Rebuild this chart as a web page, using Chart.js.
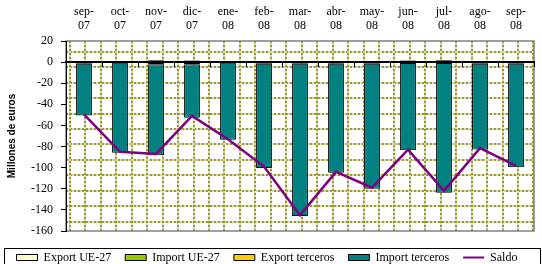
<!DOCTYPE html>
<html><head><meta charset="utf-8">
<script src="https://cdn.jsdelivr.net/npm/chart.js@4"></script>
<style>html,body{margin:0;padding:0;background:#fff;overflow:hidden}</style>
</head><body>
<canvas id="c" width="542" height="264"></canvas>
<script>
const categories = [['sep-','07'],['oct-','07'],['nov-','07'],['dic-','07'],['ene-','08'],['feb-','08'],['mar-','08'],['abr-','08'],['may-','08'],['jun-','08'],['jul-','08'],['ago-','08'],['sep-','08']];
const exportUE       = [0.5, 0.4, 1.0, 1.2, 0.4, 0.5, 0.5, 0.5, 0.6, 1.2, 1.3, 0.5, 0.5];
const importUE       = [-1.5, -0.5, -2.0, -2.0, -0.6, -1.5, -1.5, -1.5, -1.5, -0.8, -0.8, -1.5, -1.5];
const exportTerceros = [0.5, 0.4, 0.8, 0.6, 0.4, 0.5, 0.5, 0.4, 0.5, 0.6, 0.6, 0.5, 0.5];
const importTerceros = [-49, -85.3, -86.3, -50.7, -72.9, -98.9, -144.3, -103.3, -118.5, -82.8, -122.9, -81.2, -98];
const saldo          = [-49.5, -85, -87, -51, -73, -99, -145, -104, -119, -83, -122, -81.5, -98.2];
const yMin = -160, yMax = 20, yStep = 20;
const seriesNames = ['Export UE-27', 'Import UE-27', 'Export terceros', 'Import terceros', 'Saldo'];

const serif = "'Liberation Serif', 'Times New Roman', serif";

const bgPlugin = {
  id: 'bg',
  beforeUpdate(chart) {
    const lg = chart.legend;
    if (lg && !lg._fixedHeight) {
      const orig = lg.fit.bind(lg);
      lg.fit = function () { orig(); this.height = 33; };
      lg._fixedHeight = true;
    }
  },
  beforeDraw(chart) {
    const {ctx, chartArea: a} = chart;
    ctx.save();
    ctx.fillStyle = '#fff';
    ctx.fillRect(0, 0, chart.width, chart.height);
    ctx.beginPath();
    ctx.rect(a.left, a.top, a.right - a.left, a.bottom - a.top);
    ctx.clip();
    const step = 15.45;
    const line = (x1, y1, x2, y2) => {
      ctx.lineWidth = 2;
      ctx.setLineDash([]);
      ctx.strokeStyle = '#dcdcb0';
      ctx.beginPath(); ctx.moveTo(x1, y1); ctx.lineTo(x2, y2); ctx.stroke();
      ctx.setLineDash([2, 2]);
      ctx.strokeStyle = '#999938';
      ctx.beginPath(); ctx.moveTo(x1, y1); ctx.lineTo(x2, y2); ctx.stroke();
    };
    for (let y = a.top + 10.7; y < a.bottom; y += step) line(a.left, Math.round(y), a.right, Math.round(y));
    for (let x = a.left + 4; x < a.right; x += step) line(Math.round(x), a.top, Math.round(x), a.bottom);
    ctx.restore();
    ctx.save();
    ctx.strokeStyle = '#808080';
    ctx.lineWidth = 1.5;
    ctx.strokeRect(a.left, a.top, a.right - a.left, a.bottom - a.top);
    ctx.restore();
  },
  afterDraw(chart) {
    const {ctx, chartArea: a} = chart;
    ctx.save();
    ctx.strokeStyle = '#000';
    ctx.lineWidth = 1;
    ctx.strokeRect(4.5, a.bottom + 17.5, chart.width - 6, chart.height);
    ctx.restore();
  }
};

const barBase = {type: 'bar', borderColor: '#000', borderWidth: 1, borderSkipped: false, xAxisID: 'x', yAxisID: 'y', stack: 's'};

new Chart(document.getElementById('c'), {
  data: {
    labels: categories,
    datasets: [
      {...barBase, label: seriesNames[0], data: exportUE, backgroundColor: '#ffffcc'},
      {...barBase, label: seriesNames[1], data: importUE, backgroundColor: '#99cc00'},
      {...barBase, label: seriesNames[2], data: exportTerceros, backgroundColor: '#ffcc00'},
      {...barBase, label: seriesNames[3], data: importTerceros, backgroundColor: '#008080'},
      {type: 'line', label: seriesNames[4], data: saldo, borderColor: '#800080', backgroundColor: '#800080',
       borderWidth: 2.5, pointRadius: 0, tension: 0, order: -1, xAxisID: 'x', yAxisID: 'y'}
    ]
  },
  options: {
    responsive: false,
    devicePixelRatio: 1,
    animation: false,
    layout: {padding: {left: 0, right: 8, top: 0, bottom: 0}},
    datasets: {bar: {categoryPercentage: 1, barPercentage: 0.44}},
    plugins: {
      tooltip: {enabled: false},
      legend: {
        position: 'bottom',
        title: {display: true, text: ' ', font: {size: 1, lineHeight: 1}, padding: {top: 5.5, bottom: 0}},
        labels: {
          color: '#000',
          font: {family: serif, size: 12},
          usePointStyle: true,
          pointStyleWidth: 21,
          boxHeight: 6,
          padding: 14,
          sort: (a, b) => a.datasetIndex - b.datasetIndex,
          generateLabels(chart) {
            const items = Chart.defaults.plugins.legend.labels.generateLabels(chart);
            items.forEach(it => {
              if (it.datasetIndex === 4) { it.pointStyle = 'line'; it.lineWidth = 2; it.strokeStyle = '#800080'; }
              else { it.pointStyle = 'rect'; it.lineWidth = 1; it.strokeStyle = '#000'; }
            });
            return items;
          }
        }
      }
    },
    scales: {
      x: {
        type: 'category',
        position: 'top',
        offset: true,
        stacked: true,
        grid: {display: false},
        border: {display: false},
        ticks: {color: '#000', font: {family: serif, size: 12, lineHeight: 1.2}, maxRotation: 0, autoSkip: false, padding: 0},
        afterFit(s) { s.height = 41; }
      },
      x2: {
        type: 'category',
        position: {y: 0},
        offset: true,
        grid: {offset: true, drawOnChartArea: false, drawTicks: true, tickLength: 4, color: '#000', lineWidth: 1},
        border: {display: true, color: '#000', width: 2},
        ticks: {display: false}
      },
      y: {
        type: 'linear',
        position: 'left',
        stacked: true,
        min: yMin, max: yMax,
        grid: {drawOnChartArea: false, drawTicks: true, tickLength: 5, color: '#000'},
        border: {display: true, color: '#000', width: 1},
        ticks: {stepSize: yStep, color: '#000', font: {family: serif, size: 12}, padding: 8},
        title: {display: true, text: 'Millones de euros', color: '#000', font: {family: "'Liberation Sans', Arial, sans-serif", size: 10, weight: 'bold'}, padding: {top: 6, bottom: 0}},
        afterFit(s) { s.width = 66; }
      }
    }
  },
  plugins: [bgPlugin]
});
</script>
</body></html>
